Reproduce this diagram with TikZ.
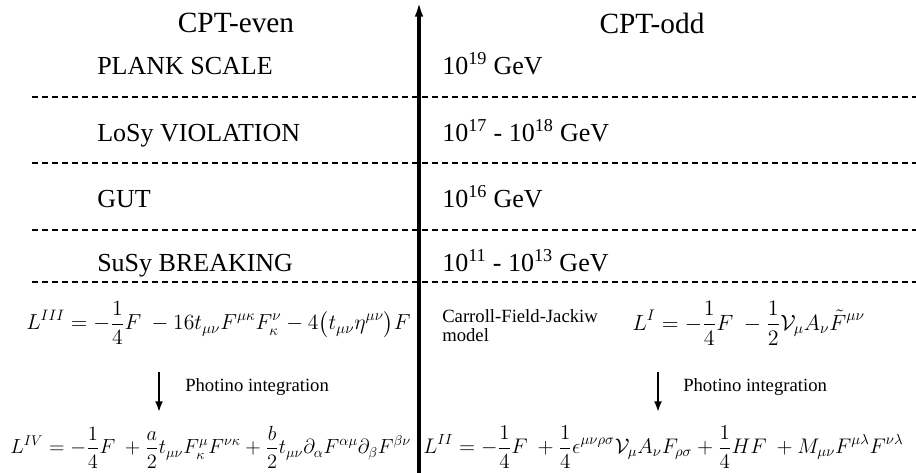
\documentclass[tikz,border=0pt]{standalone}
\usepackage{amsmath}
\usepackage{graphicx}
\usepackage{fontspec}
\setmainfont{Liberation Serif}
\usetikzlibrary{arrows.meta, positioning}

\begin{document}
\begin{tikzpicture}[
  x=0.75pt, y=-0.75pt,
  hd/.style={font=\fontsize{22}{26}\selectfont, inner sep=0pt},
  lvl/.style={font=\fontsize{19.5}{23}\selectfont, anchor=base west, inner sep=0pt},
  eq/.style={font=\fontsize{14.4}{18}\selectfont, anchor=west, inner sep=0pt},
  sm/.style={font=\fontsize{14}{14.5}\selectfont, inner sep=0pt, align=left},
  axis/.style={line width=2.4pt, -{Latex[length=11pt,width=6.5pt]}},
  fl/.style={line width=1.5pt, -{Latex[length=8pt,width=6pt]}},
  dsh/.style={line width=0.8pt, dash pattern=on 4.5pt off 3pt},
]
\useasboundingbox (0,0) rectangle (916,473);

% headings
\node[hd] (even) at (236,23) {CPT-even};
\node[hd] (odd)  at (652,23) {CPT-odd};

% energy scales
\node[lvl] (plank) at (97,75)  {PLANK SCALE};
\node[lvl] (losy)  at (97,142) {LoSy VIOLATION};
\node[lvl] (gut)   at (97,208) {GUT};
\node[lvl] (susy)  at (97,272) {SuSy BREAKING};
\node[lvl] (e19)   at (442,75)  {10\textsuperscript{19} GeV};
\node[lvl] (e17)   at (442,142) {10\textsuperscript{17} - 10\textsuperscript{18} GeV};
\node[lvl] (e16)   at (442,208) {10\textsuperscript{16} GeV};
\node[lvl] (e11)   at (442,272) {10\textsuperscript{11} - 10\textsuperscript{13} GeV};

\foreach \y in {97,163,230,282}
  \draw[dsh] (32,\y) -- (916,\y);

% lagrangians
\node[eq] (l3) at (26,323) {\scalebox{1.13}{%
  $\displaystyle L^{III}=-\frac{1}{4}F\ -16t_{\mu\nu}F^{\mu\kappa}F^{\nu}_{\kappa}-4\big(t_{\mu\nu}\eta^{\mu\nu}\big)F$}};
\node[sm, anchor=north west] (cfj) at (442,309) {Carroll-Field-Jackiw\\model};
\node[eq] (l1) at (632,323) {\scalebox{1.15}{%
  $\displaystyle L^{I}=-\frac{1}{4}F\ -\frac{1}{2}\mathcal{V}_{\mu}A_{\nu}\tilde{F}^{\mu\nu}$}};
\node[eq] (l4) at (10,447) {\scalebox{1.064}{%
  $\displaystyle L^{IV}=-\frac{1}{4}F\ +\frac{a}{2}t_{\mu\nu}F^{\mu}_{\kappa}F^{\nu\kappa}+\frac{b}{2}t_{\mu\nu}\partial_{\alpha}F^{\alpha\mu}\partial_{\beta}F^{\beta\nu}$}};
\node[eq] (l2) at (423,447) {\scalebox{1.10}{%
  $\displaystyle L^{II}=-\frac{1}{4}F\ +\frac{1}{4}\epsilon^{\mu\nu\rho\sigma}\mathcal{V}_{\mu}A_{\nu}F_{\rho\sigma}+\frac{1}{4}HF\ +M_{\mu\nu}F^{\mu\lambda}F^{\nu\lambda}$}};

% photino integration
\coordinate (pl0) at (159,372);
\coordinate (pl1) at (159,412);
\coordinate (pr0) at (658,372);
\coordinate (pr1) at (658,412);
\draw[fl] (pl0) -- (pl1);
\draw[fl] (pr0) -- (pr1);
\node[sm, anchor=base west] (phl) at (185,392) {Photino integration};
\node[sm, anchor=base west] (phr) at (683,392) {Photino integration};

% energy axis
\coordinate (ax0) at (419,473);
\coordinate (ax1) at (419,2);
\draw[axis] (ax0) -- (ax1);
\end{tikzpicture}
\end{document}
